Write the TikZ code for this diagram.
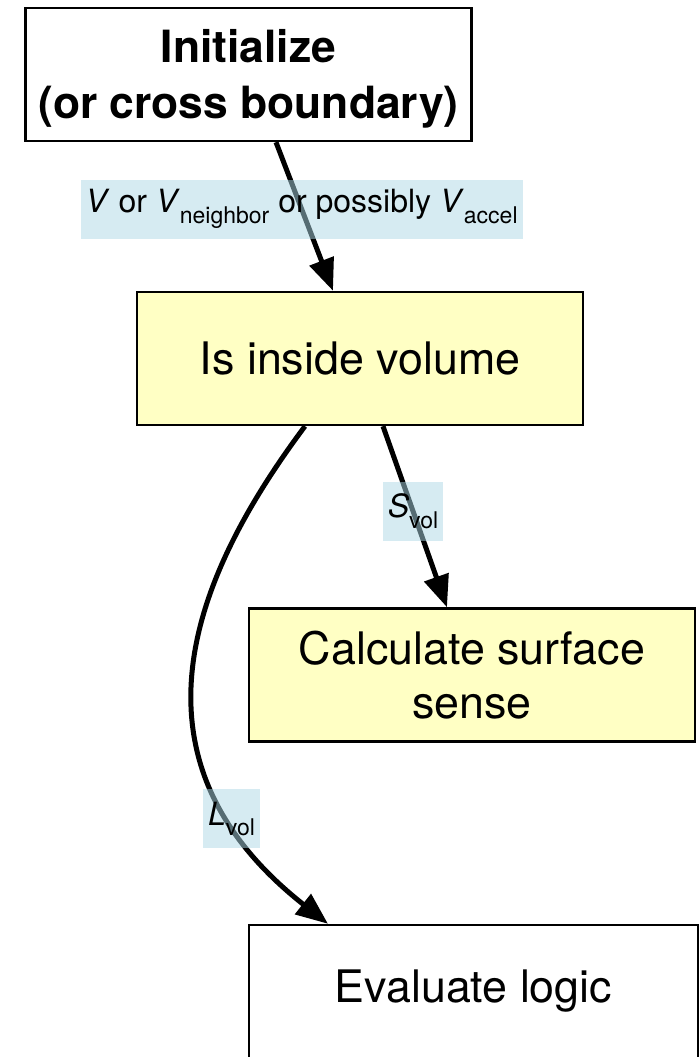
\documentclass[tikz,border=0pt]{standalone}
\usepackage{fontspec}
\setmainfont{TeX Gyre Heros}
\usetikzlibrary{arrows.meta}
\definecolor{boxyellow}{RGB}{255,255,196}
\definecolor{lblblue}{RGB}{173,216,230}
\newcommand{\varsub}[2]{\textit{#1}\raisebox{-0.33em}{\fontsize{11.5}{12}\selectfont #2}}

\begin{document}
\begin{tikzpicture}[x=0.5pt,y=0.5pt,yscale=-1,xscale=1,
  stepbox/.style={draw=black, line width=1.2pt, minimum width=223pt, minimum height=66.5pt, align=center, inner sep=0pt, font=\fontsize{22.4}{27}\selectfont},
  flow/.style={line width=2.5pt, -{Triangle[length=16pt,width=12.5pt]}},
  lbl/.style={fill=lblblue, fill opacity=0.5, text opacity=1, minimum height=29.5pt, inner xsep=2.5pt, inner ysep=0pt, font=\fontsize{16}{20}\selectfont}]
\useasboundingbox (0,0) rectangle (700,1057);
\clip (0,0) rectangle (700,1057);
\node [stepbox, font=\bfseries\fontsize{22.2}{28}\selectfont] (init) at (248.5,74.5) {\rule{0pt}{21pt}Initialize\\(or cross boundary)};
\node [stepbox, fill=boxyellow] (isin) at (360,358.5) {Is inside volume};
\node [stepbox, fill=boxyellow] (surf) at (472,675) {Calculate surface\\sense};
\node [stepbox, minimum width=224.5pt] (eval) at (473.5,991.5) {Evaluate logic};
\draw [flow] ([xshift=13.75pt]init.south) -- node [lbl, pos=0.45] (lv) {\textit{V} or \varsub{V}{neighbor} or possibly \varsub{V}{accel}} ([xshift=-13.5pt]isin.north);
\draw [flow] ([xshift=11.5pt]isin.south) -- node [lbl, pos=0.47] (ls) {\varsub{S}{vol}} ([xshift=-12.5pt]surf.north);
\draw [flow] ([xshift=-27.5pt]isin.south) .. controls (190,580) and (120,760) .. ([xshift=-72.75pt]eval.north) node [lbl, pos=0.79] (ll) {\varsub{L}{vol}};
\end{tikzpicture}
\end{document}
